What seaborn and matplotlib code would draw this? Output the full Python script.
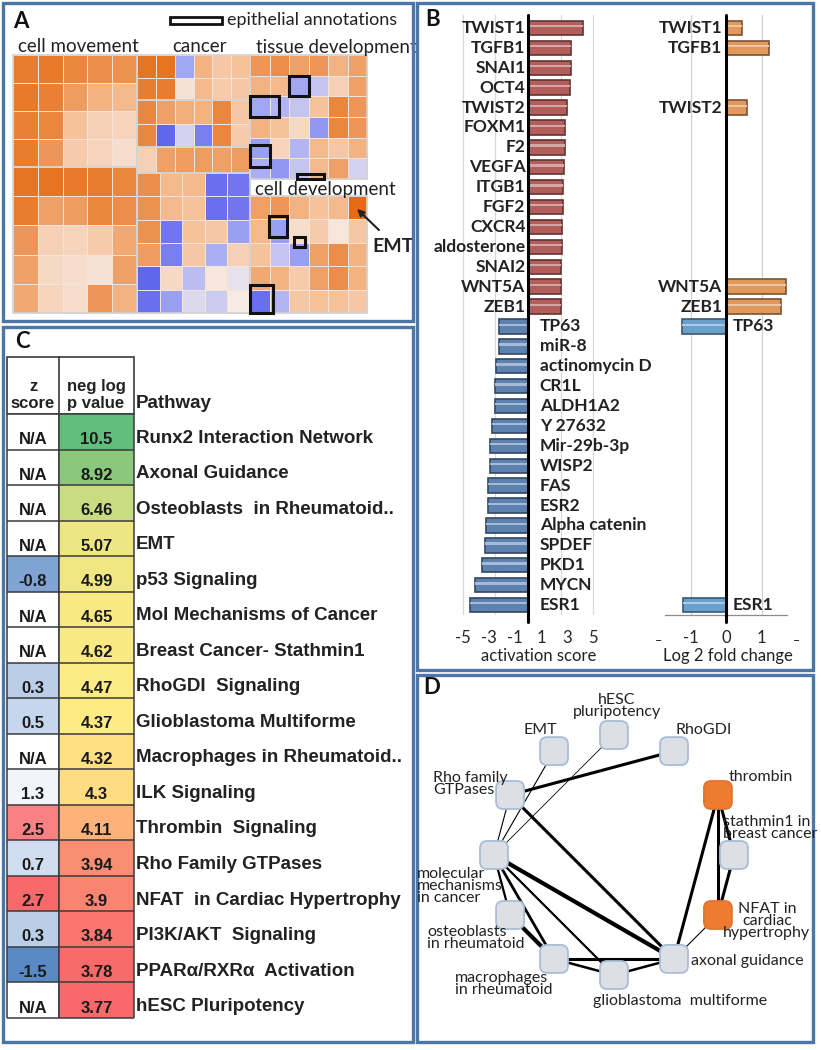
import numpy as np
import pandas as pd
import matplotlib
matplotlib.use("Agg")
import matplotlib.pyplot as plt
import seaborn as sns
from matplotlib.colors import LinearSegmentedColormap, TwoSlopeNorm, Normalize, to_rgb
from matplotlib.patches import Rectangle, FancyBboxPatch

sns.set_style("white")
plt.rcParams["font.family"] = ["Lato", "DejaVu Sans"]
plt.rcParams["axes.unicode_minus"] = False

W, H = 821, 1050
nan = np.nan

# ---------------- panel A: treemap tiles (activation z, -1 blue .. +1 orange)
move_top = [[0.90, 0.92, 0.85, 0.80, 0.78],
            [0.92, 0.88, 0.72, 0.60, 0.55],
            [0.88, 0.85, 0.50, 0.35, 0.30],
            [0.90, 0.75, 0.40, 0.30, 0.20]]
move_bottom = [[0.95, 0.95, 0.92, 0.90, 0.85],
               [0.90, 0.70, 0.72, 0.85, 0.80],
               [0.75, 0.35, 0.30, 0.40, 0.65],
               [0.70, 0.25, 0.20, 0.15, 0.70],
               [0.65, 0.30, 0.20, 0.75, 0.60]]
cancer_top = [[0.95, 0.95, -0.50, 0.60, 0.45, 0.50],
              [0.90, 0.90, 0.15, 0.55, 0.40, 0.45]]
cancer_mid = [[0.85, 0.70, 0.62, 0.60, 0.85, 0.45],
              [0.85, -0.90, -0.20, -0.75, 0.85, 0.40]]
cancer_row = [[0.35, 0.70, 0.72, 0.72, 0.70, 0.72]]
cancer_bottom = [[0.80, 0.55, 0.55, -0.85, -0.80],
                 [0.78, 0.55, 0.50, -0.85, -0.80],
                 [0.78, -0.80, 0.50, 0.45, -0.55],
                 [0.72, -0.75, 0.45, -0.45, 0.35],
                 [-0.90, 0.25, -0.35, 0.10, -0.10],
                 [-0.85, -0.55, -0.15, -0.25, 0.05]]
tissue_dev = [[0.75, 0.80, 0.70, 0.75, 0.60, 0.70],
              [0.60, 0.55, -0.50, -0.30, 0.35, 0.70],
              [-0.50, -0.40, -0.30, 0.50, 0.85, 0.75],
              [0.60, 0.50, 0.25, -0.60, 0.85, 0.75],
              [-0.55, 0.30, -0.40, 0.55, 0.45, 0.60],
              [-0.45, -0.60, -0.30, 0.55, 0.70, -0.20]]
cell_dev = [[0.70, 0.75, 0.60, 0.50, 0.55, 1.00],
            [0.55, -0.55, 0.20, 0.40, 0.10, 0.45],
            [0.50, -0.30, -0.55, 0.70, 0.80, 0.60],
            [0.65, 0.60, 0.40, 0.70, 0.80, 0.60],
            [-0.85, -0.40, 0.45, 0.50, 0.50, 0.45]]
# epithelial annotation boxes: (block, row, col, nrows, ncols) in tile units
epithelial = [("tissue", 1, 2, 1, 1), ("tissue", 2, 0, 1, 1.5), ("tissue", 4.35, 0, 1.05, 1),
              ("tissue", 5.75, 2.4, 0.25, 1.4), ("cell", 0.85, 0.97, 0.9, 0.92),
              ("cell", 1.75, 2.26, 0.43, 0.56), ("cell", 3.8, 0, 1.2, 1.18)]

# ---------------- panel B
genes = ["TWIST1", "TGFB1", "SNAI1", "OCT4", "TWIST2", "FOXM1", "F2", "VEGFA", "ITGB1",
         "FGF2", "CXCR4", "aldosterone", "SNAI2", "WNT5A", "ZEB1",
         "TP63", "miR-8", "actinomycin D", "CR1L", "ALDH1A2", "Y 27632", "Mir-29b-3p",
         "WISP2", "FAS", "ESR2", "Alpha catenin", "SPDEF", "PKD1", "MYCN", "ESR1"]
activation = [4.2, 3.3, 3.3, 3.2, 3.0, 2.85, 2.85, 2.75, 2.7, 2.7, 2.6, 2.6, 2.5, 2.5, 2.5,
              -2.2, -2.2, -2.45, -2.5, -2.5, -2.75, -2.9, -2.9, -3.05, -3.05, -3.2, -3.3,
              -3.55, -4.05, -4.45]
fc_genes = ["TWIST1", "TGFB1", "TWIST2", "WNT5A", "ZEB1", "TP63", "ESR1"]
fc_values = [0.45, 1.2, 0.6, 1.7, 1.55, -1.25, -1.2]

# ---------------- panel C
pathways = ["Runx2 Interaction Network", "Axonal Guidance", "Osteoblasts  in Rheumatoid..",
            "EMT", "p53 Signaling", "Mol Mechanisms of Cancer", "Breast Cancer- Stathmin1",
            "RhoGDI  Signaling", "Glioblastoma Multiforme", "Macrophages in Rheumatoid..",
            "ILK Signaling", "Thrombin  Signaling", "Rho Family GTPases",
            "NFAT  in Cardiac Hypertrophy", "PI3K/AKT  Signaling", "PPARα/RXRα  Activation",
            "hESC Pluripotency"]
z_scores = [nan, nan, nan, nan, -0.8, nan, nan, 0.3, 0.5, nan, 1.3, 2.5, 0.7, 2.7, 0.3, -1.5, nan]
neg_log_p = [10.5, 8.92, 6.46, 5.07, 4.99, 4.65, 4.62, 4.47, 4.37, 4.32, 4.3, 4.11, 3.94,
             3.9, 3.84, 3.78, 3.77]

# ---------------- panel D: circular network
net_nodes = ["stathmin", "thrombin", "RhoGDI", "hESC", "EMT", "Rho", "mol", "osteo",
             "mac", "gbm", "axonal", "NFAT"]
net_labels = ["stathmin1 in\nbreast cancer", "thrombin", "RhoGDI", "hESC\npluripotency", "EMT",
              "Rho family\nGTPases", "molecular\nmechanisms\nin cancer", "osteoblasts\nin rheumatoid",
              "macrophages\nin rheumatoid", "glioblastoma  multiforme", "axonal guidance",
              "NFAT in\ncardiac\nhypertrophy"]
net_active = ["thrombin", "NFAT"]
net_edges = [("EMT", "mol", 0.8), ("hESC", "mol", 0.6), ("Rho", "mol", 0.8),
             ("RhoGDI", "Rho", 2.2), ("Rho", "axonal", 2.2), ("mol", "axonal", 3.0),
             ("mol", "gbm", 1.6), ("mol", "mac", 2.0), ("mol", "osteo", 1.6),
             ("osteo", "mac", 3.0), ("mac", "axonal", 2.2), ("mac", "gbm", 1.8),
             ("gbm", "axonal", 1.8), ("thrombin", "stathmin", 2.2), ("thrombin", "NFAT", 2.2),
             ("thrombin", "axonal", 2.2), ("stathmin", "NFAT", 2.2), ("NFAT", "axonal", 0.8)]


fig = plt.figure(figsize=(W / 100, H / 100), dpi=100)


def px_axes(x0, y0, x1, y1, **kw):
    return fig.add_axes([x0 / W, 1 - y1 / H, (x1 - x0) / W, (y1 - y0) / H], **kw)


ax0 = px_axes(0, 0, W, H)
ax0.set_xlim(0, W)
ax0.set_ylim(H, 0)
ax0.axis("off")

# panel frames
for x0, y0, x1, y1 in [(3, 3, 413, 321), (417, 3, 813, 670), (3, 327, 413, 1042), (417, 675, 813, 1042)]:
    ax0.add_patch(Rectangle((x0, y0), x1 - x0, y1 - y0, fill=False, ec="#4a76a8", lw=2.4, zorder=10))
for letter, x, y in [("A", 13, 22), ("B", 425, 20), ("C", 15, 341), ("D", 423, 688)]:
    ax0.text(x, y, letter, fontsize=16, fontweight="bold", ha="left", va="center", color="#111")

# ---------------- A
cmap_a = LinearSegmentedColormap.from_list("tm", ["#5157ec", "#a2a7f3", "#f6efec", "#f6c39c", "#e56c16"])
norm_a = Normalize(-1, 1)
blocks = {"move_top": (move_top, 13, 137, 55, 167), "move_bottom": (move_bottom, 13, 137, 167, 313),
          "cancer_top": (cancer_top, 137, 250, 55, 100), "cancer_mid": (cancer_mid, 137, 250, 100, 147),
          "cancer_row": (cancer_row, 137, 250, 147, 173), "cancer_bottom": (cancer_bottom, 137, 250, 173, 313),
          "tissue": (tissue_dev, 250, 367, 55, 179), "cell": (cell_dev, 250, 367, 196, 313)}
for vals, x0, x1, y0, y1 in blocks.values():
    v = np.array(vals)
    nr, nc = v.shape
    ax0.pcolormesh(np.linspace(x0, x1, nc + 1), np.linspace(y0, y1, nr + 1), v, cmap=cmap_a,
                   norm=norm_a, edgecolors="#f4e3d8", linewidth=0.6)
    ax0.add_patch(Rectangle((x0, y0), x1 - x0, y1 - y0, fill=False, ec="#d2d2d2", lw=1.2))
for name, r, c, nr_, nc_ in epithelial:
    vals, x0, x1, y0, y1 = blocks[name]
    v = np.array(vals)
    cw, rh = (x1 - x0) / v.shape[1], (y1 - y0) / v.shape[0]
    ax0.add_patch(Rectangle((x0 + c * cw, y0 + r * rh), nc_ * cw, nr_ * rh, fill=False,
                            ec="#111", lw=2.2, zorder=4))
ax0.add_patch(Rectangle((170, 17), 52, 7, fill=False, ec="#111", lw=2.0))
ax0.text(227, 20, "epithelial annotations", fontsize=13, va="center", ha="left", color="#222")
ax0.text(18, 46, "cell movement", fontsize=13.5, va="center", ha="left", color="#222")
ax0.text(172, 46, "cancer", fontsize=13.5, va="center", ha="left", color="#222")
ax0.text(256, 48, "tissue development", fontsize=13.5, va="center", ha="left", color="#222")
ax0.text(255, 189, "cell development", fontsize=13.5, va="center", ha="left", color="#222")
ax0.text(372, 247, "EMT", fontsize=14, fontweight="bold", va="center", ha="left", color="#222")
ax0.annotate("", xy=(355, 207), xytext=(381, 232),
             arrowprops=dict(arrowstyle="-|>", color="#222", lw=1.5, mutation_scale=10))

# ---------------- B


def bevel(ax):
    for p in list(ax.patches):
        fc = np.array(to_rgb(p.get_facecolor()))
        p.set_edgecolor(tuple(fc * 0.55))
        p.set_linewidth(1.2)
        h = p.get_height()
        ax.add_patch(Rectangle((p.get_x(), p.get_y() + 0.3 * h), p.get_width(), 0.16 * h,
                               color=tuple(fc + (1 - fc) * 0.45), lw=0, zorder=p.get_zorder() + 0.1))


dfb = pd.DataFrame({"gene": genes, "score": activation})
dfb["sign"] = np.where(dfb["score"] > 0, "up", "down")
axl = px_axes(459, 15, 597, 615)
axl.patch.set_alpha(0)
sns.barplot(data=dfb, x="score", y="gene", hue="sign", order=genes, orient="h",
            palette={"up": "#c0504d", "down": "#4f81bd"}, dodge=False, legend=False,
            width=0.72, ax=axl, zorder=2)
bevel(axl)
axl.set_xlim(-5.3, 5.3)
axl.set_ylim(29.5, -0.65)
axl.set_yticks([])
axl.set_xlabel("")
axl.set_ylabel("")
axl.set_xticks([-5, -3, -1, 1, 3, 5])
axl.tick_params(axis="x", length=0, pad=11, labelsize=12)
for v in [-5, -2.5, 2.5, 5]:
    axl.axvline(v, color="#d9d9d9", lw=0.9, zorder=0)
sns.despine(ax=axl, left=True, bottom=True)
axl.axvline(0, ymin=-0.012, ymax=1, color="black", lw=2.2, clip_on=False, zorder=3)
for i, (g, v) in enumerate(zip(genes, activation)):
    if v > 0:
        axl.text(-0.2, i, g, ha="right", va="center", fontsize=12.5, fontweight="bold", color="#222")
    else:
        axl.text(0.9, i, g, ha="left", va="center", fontsize=12.5, fontweight="bold", color="#222")

dfr = pd.DataFrame({"gene": fc_genes, "lfc": fc_values})
dfr["sign"] = np.where(dfr["lfc"] > 0, "up", "down")
axr = px_axes(655, 15, 797, 615)
axr.patch.set_alpha(0)
sns.barplot(data=dfr, x="lfc", y="gene", hue="sign", order=genes, orient="h",
            palette={"up": "#f79646", "down": "#58a2dd"}, dodge=False, legend=False,
            width=0.72, ax=axr, zorder=2)
bevel(axr)
axr.set_xlim(-2, 2)
axr.set_ylim(29.5, -0.65)
axr.set_yticks([])
axr.set_xlabel("")
axr.set_ylabel("")
axr.set_xticks([-1, 0, 1])
axr.tick_params(axis="x", length=0, pad=11, labelsize=12)
for v in [-1, 1]:
    axr.axvline(v, color="#d0d0d0", lw=0.9, zorder=0)
sns.despine(ax=axr, left=True)
axr.spines["bottom"].set_bounds(-1.72, 1.72)
axr.spines["bottom"].set_color("#8c8c8c")
axr.spines["bottom"].set_linewidth(0.9)
axr.axvline(0, ymin=-0.012, ymax=1, color="black", lw=2.2, clip_on=False, zorder=3)
for g, v in zip(fc_genes, fc_values):
    i = genes.index(g)
    if v > 0:
        axr.text(-0.1, i, g, ha="right", va="center", fontsize=12.5, fontweight="bold", color="#222")
    else:
        axr.text(0.2, i, g, ha="left", va="center", fontsize=12.5, fontweight="bold", color="#222")
# truncated end ticks of the fold-change axis
for xe in (659, 797):
    ax0.text(xe, 641, "–", fontsize=9, ha="center", va="center", color="#222")
ax0.text(539, 656, "activation score", fontsize=12, ha="center", va="center", color="#222")
ax0.text(728, 656, "Log 2 fold change", fontsize=12, ha="center", va="center", color="#222")

# ---------------- C
arial = ["Liberation Sans", "DejaVu Sans"]
rows = len(pathways)
top, bot = 414, 1018
rh = (bot - top) / rows
axz = px_axes(7, top, 59, bot)
axp = px_axes(59, top, 134, bot)
cmap_z = LinearSegmentedColormap.from_list("z", ["#5a8ac6", "#fcfcff", "#f8696b"])
cmap_p = LinearSegmentedColormap.from_list("p", ["#f8696b", "#ffeb84", "#63be7b"])
sns.heatmap(np.array(z_scores).reshape(-1, 1), ax=axz, cmap=cmap_z, cbar=False,
            norm=TwoSlopeNorm(vmin=-1.5, vcenter=1.5, vmax=2.7), xticklabels=False, yticklabels=False)
sns.heatmap(np.array(neg_log_p).reshape(-1, 1), ax=axp, cmap=cmap_p, cbar=False,
            norm=TwoSlopeNorm(vmin=3.77, vcenter=4.37, vmax=10.5), xticklabels=False, yticklabels=False)
for ax, vals in [(axz, z_scores), (axp, neg_log_p)]:
    ax.set_facecolor("white")
    ax.hlines(np.arange(rows + 1), 0, 1, color="#3a3a3a", lw=1.1, clip_on=False)
    ax.vlines([0, 1], 0, rows, color="#3a3a3a", lw=1.1, clip_on=False)
    for i, v in enumerate(vals):
        s = "N/A" if np.isnan(v) else f"{v:g}"
        ax.text(0.5, i + 0.72, s, ha="center", va="center", fontsize=12, fontweight="bold",
                family=arial, color="#1a1a1a")
ax0.add_patch(Rectangle((7, 357), 127, 57, fill=False, ec="#3a3a3a", lw=1.2))
ax0.plot([59, 59], [357, 414], color="#3a3a3a", lw=1.2)
ax0.text(33, 395, "z\nscore", ha="center", va="center", fontsize=12, fontweight="bold",
         family=arial, linespacing=1.1, color="#222")
ax0.text(96, 395, "neg log\np value", ha="center", va="center", fontsize=12, fontweight="bold",
         family=arial, linespacing=1.1, color="#222")
ax0.text(136, 404, "Pathway", ha="left", va="center", fontsize=13.5, fontweight="bold",
         family=arial, color="#222")
for i, name in enumerate(pathways):
    ax0.text(136, top + (i + 0.68) * rh, name, ha="left", va="center", fontsize=13.5,
             fontweight="bold", family=arial, color="#222")

# ---------------- D
cx, cy, rad = 614, 855, 120
axd = px_axes(417, 676, 813, 1042)
axd.axis("off")
axd.set_xlim((417 - cx) / rad, (813 - cx) / rad)
axd.set_ylim((cy - 1042) / rad, (cy - 676) / rad)
ang = np.deg2rad(np.arange(len(net_nodes)) * 360 / len(net_nodes))
pos = {n: (np.cos(a), np.sin(a)) for n, a in zip(net_nodes, ang)}
for a, b, w in net_edges:
    axd.plot([pos[a][0], pos[b][0]], [pos[a][1], pos[b][1]], color="black", lw=w,
             solid_capstyle="round", zorder=1)
side = 28 / rad
for n in net_nodes:
    x, y = pos[n]
    active = n in net_active
    axd.add_patch(FancyBboxPatch((x - side / 2, y - side / 2), side, side,
                                 boxstyle="round,pad=0,rounding_size=0.06",
                                 fc="#ee7b30" if active else "#dcdfe4",
                                 ec="#e0762f" if active else "#a9bdd8", lw=1.3, zorder=2))
# label placement: pixel offsets from node centre
label_place = {"EMT": (-14, -21, "center"), "hESC": (3, -29, "center"), "RhoGDI": (1, -21, "left"),
               "Rho": (-77, -11, "left"), "thrombin": (11, -18, "left"), "stathmin": (-11, -27, "left"),
               "NFAT": (49, 6, "center"), "axonal": (17, 2, "left"), "gbm": (-21, 26, "left"),
               "mac": (-99, 25, "left"), "osteo": (-83, 23, "left"), "mol": (-77, 31, "left")}
for n, lab in zip(net_nodes, net_labels):
    dx, dy, ha = label_place[n]
    x, y = pos[n]
    axd.text(x + dx / rad, y - dy / rad, lab, ha=ha, va="center", ma=ha, fontsize=11.5,
             linespacing=0.85, color="#222", zorder=3)

fig.savefig("out.png", dpi=100)
